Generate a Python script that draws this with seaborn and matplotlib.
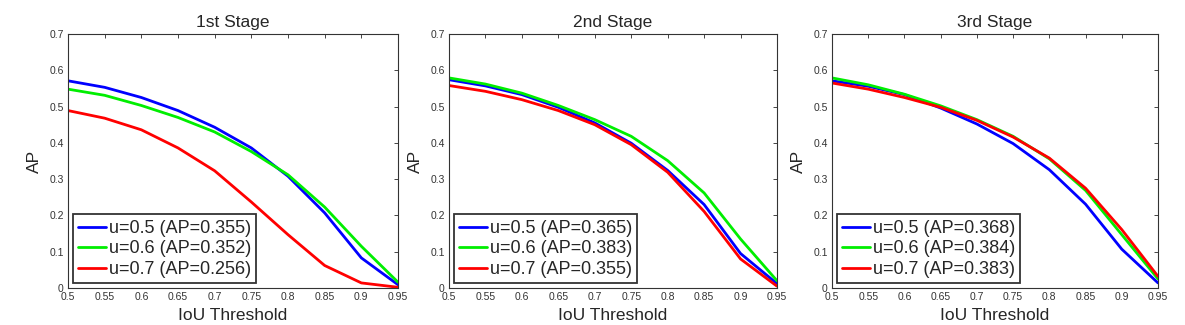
import numpy as np
import pandas as pd
import matplotlib
matplotlib.use("Agg")
import matplotlib.pyplot as plt
import seaborn as sns

iou = [0.5, 0.55, 0.6, 0.65, 0.7, 0.75, 0.8, 0.85, 0.9, 0.95]
stages = ["1st Stage", "2nd Stage", "3rd Stage"]

s1_u05 = [0.571, 0.553, 0.525, 0.489, 0.443, 0.386, 0.308, 0.207, 0.083, 0.009]
s1_u06 = [0.548, 0.531, 0.503, 0.470, 0.430, 0.376, 0.312, 0.223, 0.115, 0.016]
s1_u07 = [0.489, 0.468, 0.436, 0.386, 0.323, 0.237, 0.147, 0.062, 0.014, 0.002]

s2_u05 = [0.574, 0.557, 0.533, 0.498, 0.455, 0.399, 0.324, 0.230, 0.095, 0.012]
s2_u06 = [0.579, 0.562, 0.537, 0.503, 0.464, 0.418, 0.351, 0.262, 0.135, 0.020]
s2_u07 = [0.558, 0.542, 0.519, 0.489, 0.450, 0.395, 0.319, 0.211, 0.080, 0.005]

s3_u05 = [0.571, 0.556, 0.533, 0.496, 0.452, 0.398, 0.326, 0.231, 0.107, 0.014]
s3_u06 = [0.579, 0.560, 0.534, 0.502, 0.464, 0.418, 0.356, 0.269, 0.147, 0.025]
s3_u07 = [0.565, 0.548, 0.525, 0.498, 0.462, 0.416, 0.358, 0.275, 0.161, 0.032]

labels1 = ["u=0.5 (AP=0.355)", "u=0.6 (AP=0.352)", "u=0.7 (AP=0.256)"]
labels2 = ["u=0.5 (AP=0.365)", "u=0.6 (AP=0.383)", "u=0.7 (AP=0.355)"]
labels3 = ["u=0.5 (AP=0.368)", "u=0.6 (AP=0.384)", "u=0.7 (AP=0.383)"]

x_ticks = [0.5, 0.55, 0.6, 0.65, 0.7, 0.75, 0.8, 0.85, 0.9, 0.95]
x_ticklabels = ["0.5", "0.55", "0.6", "0.65", "0.7", "0.75", "0.8", "0.85", "0.9", "0.95"]
y_ticks = [0, 0.1, 0.2, 0.3, 0.4, 0.5, 0.6, 0.7]
y_ticklabels = ["0", "0.1", "0.2", "0.3", "0.4", "0.5", "0.6", "0.7"]

colors = ["#0000ff", "#00ee00", "#ff0000"]

sns.set_style("white")
plt.rcParams["font.family"] = ["Liberation Sans", "DejaVu Sans"]

series = [
    (s1_u05, s1_u06, s1_u07, labels1),
    (s2_u05, s2_u06, s2_u07, labels2),
    (s3_u05, s3_u06, s3_u07, labels3),
]

fig = plt.figure(figsize=(11.85, 3.25), dpi=100)
lefts = [68 / 1185, 449 / 1185, 832 / 1185]
widths = [330 / 1185, 328 / 1185, 326 / 1185]
bottom = 37 / 325
height = 254 / 325

for i, (a, b, c, labs) in enumerate(series):
    ax = fig.add_axes([lefts[i], bottom, widths[i], height])
    rows = []
    for vals, lab in zip((a, b, c), labs):
        for xv, yv in zip(iou, vals):
            rows.append({"IoU": xv, "AP": yv, "series": lab})
    df = pd.DataFrame(rows)
    sns.lineplot(data=df, x="IoU", y="AP", hue="series", palette=colors,
                 hue_order=labs, linewidth=2, ax=ax)
    ax.set_xlim(0.5, 0.95)
    ax.set_ylim(0, 0.7)
    ax.set_xticks(x_ticks)
    ax.set_xticklabels(x_ticklabels)
    ax.set_yticks(y_ticks)
    ax.set_yticklabels(y_ticklabels)
    ax.tick_params(direction="in", length=3, width=0.6, labelsize=7.5,
                   labelcolor="#333333", top=True, right=True)
    ax.tick_params(axis="x", pad=3)
    ax.tick_params(axis="y", pad=3)
    for sp in ax.spines.values():
        sp.set_visible(True)
        sp.set_color("#333333")
        sp.set_linewidth(0.8)
    ax.set_title(stages[i], fontsize=12.5, pad=5)
    ax.set_xlabel("IoU Threshold", fontsize=12.5, labelpad=4)
    ax.set_ylabel("AP", fontsize=12.5, labelpad=5)
    leg = ax.legend(loc="lower left", fontsize=13, frameon=True, fancybox=False,
                    handlelength=1.55, handletextpad=0.15, borderpad=0.3,
                    labelspacing=0.2, borderaxespad=0.25)
    leg.get_frame().set_edgecolor("black")
    leg.get_frame().set_linewidth(1.3)

fig.savefig("out.png", dpi=100)
